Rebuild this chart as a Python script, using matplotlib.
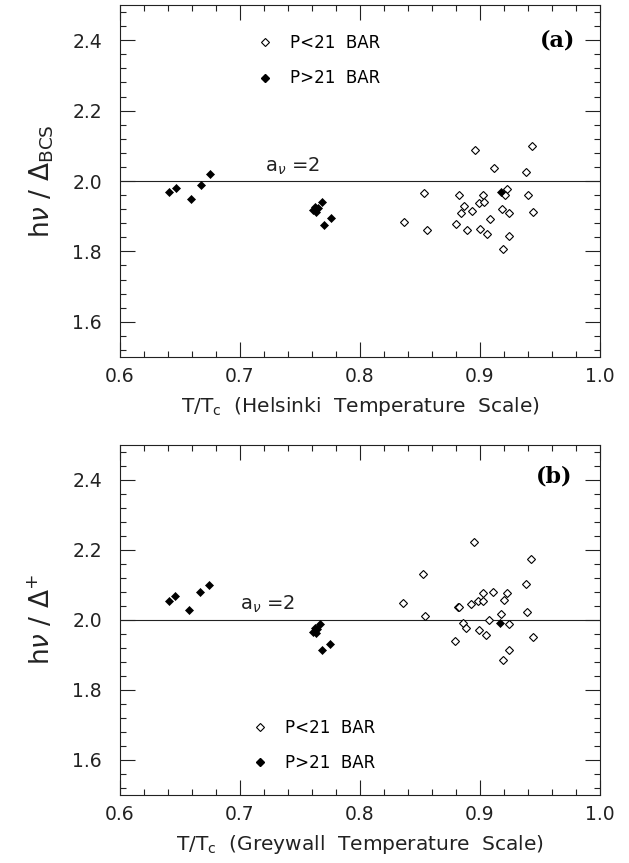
import matplotlib
matplotlib.use("Agg")
import matplotlib.pyplot as plt
from matplotlib.lines import Line2D
from matplotlib.ticker import MultipleLocator

plt.rcParams['font.family'] = ['DejaVu Sans']
plt.rcParams['mathtext.fontset'] = 'dejavusans'

# ---- Panel (a): Helsinki temperature scale ----
a_open_x = [0.8958, 0.9430, 0.9117, 0.9383, 0.8536, 0.8825, 0.9028, 0.9228, 0.9208,
            0.9397, 0.8994, 0.9036, 0.8867, 0.8839, 0.8931, 0.9180, 0.9244, 0.9444,
            0.9083, 0.8367, 0.8797, 0.8556, 0.8889, 0.9000, 0.9056, 0.9244, 0.9189]
a_open_y = [2.087, 2.100, 2.037, 2.027, 1.965, 1.959, 1.959, 1.978, 1.959,
            1.959, 1.938, 1.940, 1.929, 1.909, 1.915, 1.921, 1.909, 1.913,
            1.891, 1.884, 1.877, 1.862, 1.862, 1.863, 1.850, 1.843, 1.808]
a_fill_x = [0.6411, 0.6467, 0.6589, 0.6675, 0.6753,
            0.7606, 0.7625, 0.7636, 0.7650, 0.7686, 0.7700, 0.7756, 0.9175]
a_fill_y = [1.968, 1.980, 1.950, 1.990, 2.020,
            1.918, 1.925, 1.912, 1.922, 1.939, 1.875, 1.894, 1.969]

# ---- Panel (b): Greywall temperature scale ----
b_open_x = [0.8953, 0.9425, 0.8528, 0.9381, 0.9111, 0.9022, 0.9228, 0.9203, 0.8986,
            0.9028, 0.8922, 0.8356, 0.8814, 0.8828, 0.8542, 0.9394, 0.9175, 0.9078,
            0.9244, 0.8856, 0.8883, 0.8994, 0.9050, 0.9444, 0.8792, 0.9244, 0.9189]
b_open_y = [2.224, 2.175, 2.131, 2.102, 2.081, 2.076, 2.078, 2.057, 2.055,
            2.055, 2.046, 2.048, 2.036, 2.036, 2.011, 2.023, 2.016, 1.999,
            1.989, 1.990, 1.976, 1.970, 1.957, 1.950, 1.940, 1.914, 1.887]
b_fill_x = [0.6411, 0.6458, 0.6578, 0.6667, 0.6744,
            0.7606, 0.7625, 0.7644, 0.7667, 0.7633, 0.7686, 0.7750, 0.9167]
b_fill_y = [2.055, 2.069, 2.029, 2.080, 2.099,
            1.967, 1.976, 1.973, 1.989, 1.964, 1.914, 1.931, 1.990]

ref_level = 2.0
x_ticks = [0.6, 0.7, 0.8, 0.9, 1.0]
y_ticks = [1.6, 1.8, 2.0, 2.2, 2.4]
legend_labels = ['P<21  BAR', 'P>21  BAR']

fig = plt.figure(figsize=(6.29, 8.63), dpi=100)
ax_a = fig.add_axes([0.1908, 0.5863, 0.7631, 0.4079])
ax_b = fig.add_axes([0.1908, 0.0788, 0.7631, 0.4056])

dark = '#222222'

def style(ax, xlabel, ylabel):
    ax.set_xlim(0.6, 1.0)
    ax.set_ylim(1.5, 2.5)
    ax.set_xticks(x_ticks)
    ax.set_yticks(y_ticks)
    ax.set_xticklabels([f'{v:.1f}' for v in x_ticks])
    ax.set_yticklabels([f'{v:.1f}' for v in y_ticks])
    ax.xaxis.set_minor_locator(MultipleLocator(0.02))
    ax.yaxis.set_minor_locator(MultipleLocator(0.04))
    ax.tick_params(which='both', direction='in', top=True, right=True,
                   color=dark, width=0.8)
    ax.tick_params(which='major', length=10.5, labelsize=13.5, colors=dark)
    ax.tick_params(axis='x', which='major', pad=7)
    ax.tick_params(axis='y', which='major', pad=13)
    ax.tick_params(which='minor', length=4.5)
    for s in ax.spines.values():
        s.set_color(dark)
        s.set_linewidth(0.8)
    ax.axhline(ref_level, color=dark, lw=0.8, zorder=1)
    ax.set_xlabel(xlabel, fontsize=14.5, color=dark, labelpad=7)
    ax.set_ylabel(ylabel, fontsize=19, color=dark, labelpad=12)

def draw(ax, ox, oy, fx, fy):
    ax.plot(ox, oy, linestyle='none', marker='D', markersize=4.2,
            markerfacecolor='white', markeredgecolor='black',
            markeredgewidth=0.8, zorder=3)
    ax.plot(fx, fy, linestyle='none', marker='D', markersize=4.5,
            markerfacecolor='black', markeredgecolor='black',
            markeredgewidth=0.5, zorder=4)

def legend(ax, anchor):
    handles = [Line2D([], [], linestyle='none', marker='D', markersize=4.2,
                      markerfacecolor='white', markeredgecolor='black',
                      markeredgewidth=0.8),
               Line2D([], [], linestyle='none', marker='D', markersize=4.5,
                      markerfacecolor='black', markeredgecolor='black')]
    ax.legend(handles, legend_labels, loc='upper left', bbox_to_anchor=anchor,
              frameon=False, fontsize=12, labelspacing=1.05, handlelength=1.0,
              handletextpad=1.0, borderaxespad=0)

draw(ax_a, a_open_x, a_open_y, a_fill_x, a_fill_y)
style(ax_a, r'T/T$_{\rm c}$  (Helsinki  Temperature  Scale)',
      r'h$\nu$ / $\Delta_{\rm BCS}$')
legend(ax_a, (0.27, 0.937))
ax_a.text(0.721, 2.026, r'a$_{\nu}$ =2', fontsize=14, color=dark)
ax_a.text(0.979, 2.40, '(a)', fontsize=16, fontweight='bold',
          family='DejaVu Serif', ha='right', va='center')

draw(ax_b, b_open_x, b_open_y, b_fill_x, b_fill_y)
style(ax_b, r'T/T$_{\rm c}$  (Greywall  Temperature  Scale)',
      r'h$\nu$ / $\Delta^{+}$')
legend(ax_b, (0.26, 0.237))
ax_b.text(0.700, 2.028, r'a$_{\nu}$ =2', fontsize=14, color=dark)
ax_b.text(0.977, 2.41, '(b)', fontsize=16, fontweight='bold',
          family='DejaVu Serif', ha='right', va='center')

fig.savefig('out.png', dpi=100)
